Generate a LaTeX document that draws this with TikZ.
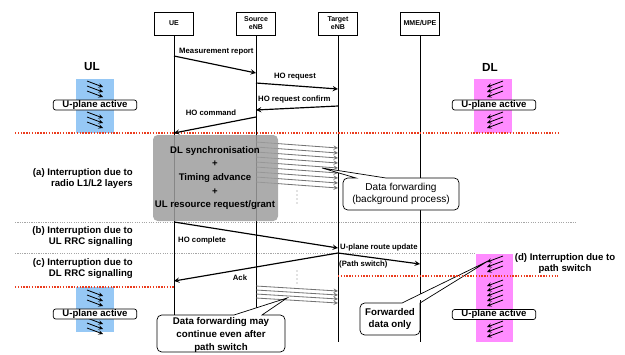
\documentclass[tikz,border=0pt]{standalone}
\usepackage{fontspec}
\setmainfont{Liberation Sans}
\usepackage{xcolor}
\usetikzlibrary{positioning, calc, arrows.meta}
\definecolor{ulblue}{RGB}{150,200,245}
\definecolor{dlpink}{RGB}{255,140,255}
\definecolor{cutred}{RGB}{235,60,30}
\tikzset{
  entity/.style={draw,fill=white,line width=0.6pt,minimum width=1.17cm,minimum height=0.69cm,inner sep=0pt,align=center,font=\fontsize{6}{6.8}\selectfont\bfseries},
  lifeline/.style={line width=0.6pt},
  msg/.style={->,>=stealth,line width=1pt},
  msglabel/.style={font=\fontsize{6.6}{7}\selectfont\bfseries,inner sep=0pt},
  fwd/.style={->,>=stealth,black!55,line width=0.7pt},
  uarrow/.style={->,>=stealth,line width=0.7pt},
  cut/.style={cutred,line width=1.3pt,dash pattern=on 1.2pt off 1.2pt},
  phase/.style={gray!70,line width=0.4pt,dash pattern=on 1pt off 1pt},
  active/.style={draw,fill=white,rounded corners=2pt,line width=0.6pt,minimum width=2.5cm,minimum height=0.3cm,inner sep=0pt,font=\fontsize{8.2}{9}\selectfont\bfseries},
  cause/.style={font=\fontsize{8.2}{9.4}\selectfont\bfseries,inner sep=0pt},
  bubble/.style={draw,fill=white,line width=0.6pt},
  note/.style={align=center,inner sep=0pt,font=\fontsize{8.3}{11}\selectfont\bfseries},
}
\begin{document}
\begin{tikzpicture}[x=0.03cm,y=-0.03cm]
  \useasboundingbox (0,0) rectangle (625,354);
  \fill[ulblue] (76,79) rectangle (114,133); %UL上
  \fill[ulblue] (76,287) rectangle (114,332); %UL下
  \fill[dlpink] (474,79) rectangle (512,133); %DL上
  \fill[dlpink] (476,254) rectangle (513,342); %DL下
  \draw[phase] (15,222) -- (577,222);
  \draw[phase] (15,253) -- (476,253);
  \node[entity] (ue) at (174,23.5) {UE};
  \node[entity] (src) at (256,23.5) {Source\\eNB};
  \node[entity] (tgt) at (338,23.5) {Target\\eNB};
  \node[entity] (mme) at (420,23.5) {MME/UPE};
  \draw[lifeline] (ue) -- (ue |- 0,342);
  \draw[lifeline] (src) -- (src |- 0,342);
  \draw[lifeline] (tgt) -- (tgt |- 0,342);
  \draw[lifeline] (mme) -- (mme |- 0,342);
  % 転送データ
  \foreach \k in {0,...,8}
    \draw[fwd] (src |- 0,{142+5*\k}) -- (tgt |- 0,{148+5*\k});
  \foreach \k in {0,...,3}
    \draw[fwd] (src |- 0,{286+4*\k}) -- (tgt |- 0,{291+4*\k});
  \foreach \y in {191,195,199,203} \fill[gray] (297,\y) circle (0.5pt);
  \foreach \y in {271,275,279,283} \fill[gray] (297,\y) circle (0.5pt);
  \fill[black!38,fill opacity=0.85,rounded corners=4pt] (153,135) rectangle (278,221);
  \node[align=center,inner sep=0pt,font=\fontsize{8.2}{11.7}\selectfont\bfseries] (sync) at (215,178)
    {DL synchronisation\\+\\Timing advance\\+\\UL resource request/grant};
  % 吹き出し
  \draw[bubble] (343,194) [rounded corners=4pt] -- (343,178) [sharp corners] -- (356,178) -- (322,168) -- (386,178)
    [rounded corners=4pt] -- (459,178) -- (459,210) -- (343,210) -- cycle;
  \node[note,font=\fontsize{8.6}{9.6}\selectfont] (fwdnote) at (401,194) {Data forwarding\\(background process)};
  \draw[bubble] (157,334) [rounded corners=4pt] -- (157,315) [sharp corners] -- (234,315) -- (287,298) -- (262,315)
    [rounded corners=4pt] -- (285,315) -- (285,352) -- (157,352) -- cycle;
  \node[note] (contnote) at (221,335) {Data forwarding may\\continue even after\\path switch};
  \draw[bubble] (360,319) [rounded corners=4pt] -- (360,303) [sharp corners] -- (402,303) -- (488,261) -- (420,303)
    [rounded corners=4pt] -- (420,335) -- (360,335) -- cycle;
  \node[note,font=\fontsize{8.3}{10.5}\selectfont\bfseries] (onlynote) at (390,319) {Forwarded\\data only};
  \draw[lifeline] (mme |- 0,300) -- (mme |- 0,342);
  % 中断区間
  \draw[cut] (15,133) -- (558,133);
  \draw[cut] (15,287) -- (ue |- 0,287);
  \draw[cut] (tgt |- 0,276) -- (558,276);
  % メッセージ
  \draw[msg] (ue |- 0,56) -- (src |- 0,73);
  \node[msglabel,anchor=west] (mr) at (179,51.5) {Measurement report};
  \draw[msg] (src |- 0,83) -- (tgt |- 0,89);
  \node[msglabel] (horeq) at (295,77) {HO request};
  \draw[msg] (tgt |- 0,106) -- (src |- 0,110);
  \node[msglabel,anchor=west] (hoconf) at (258,99) {HO request confirm};
  \draw[msg] (src |- 0,117) -- (ue |- 0,133);
  \node[msglabel] (hocmd) at (211,113) {HO command};
  \draw[msg] (ue |- 0,222) -- (tgt |- 0,248);
  \node[msglabel,anchor=west] (hocpl) at (178,240) {HO complete};
  \draw[msg] (tgt |- 0,253) -- (mme |- 0,264);
  \node[msglabel,anchor=west] (route) at (340,247) {U-plane route update};
  \node[msglabel,anchor=west] (pswitch) at (339,264) {(Path switch)};
  \draw[msg] (tgt |- 0,253) -- (ue |- 0,281);
  \node[msglabel] (ack) at (240,278) {Ack};
  % Uプレーン矢印
  \foreach \y in {81,86,91,112,117,122,290,295,300,318,323,328}
    \draw[uarrow] (87,\y) -- (103,\y+6);
  \foreach \y in {81,86,91,112,117,122,256,261,266,280,285,290,295,300,321,326,331}
    \draw[uarrow] (503,\y) -- (487,\y+6);
  \node[active] (ulact) at (95,105) {U-plane active};
  \node[active] (ulact2) at (95,314) {U-plane active};
  \node[active] (dlact) at (494,105) {U-plane active};
  \node[active] (dlact2) at (494,314.5) {U-plane active};
  \node[font=\fontsize{10}{12}\selectfont\bfseries] (ul) at (92,67) {UL};
  \node[font=\fontsize{10}{12}\selectfont\bfseries] (dl) at (490,67) {DL};
  % 中断の要因
  \node[cause,align=right,anchor=east] (causea) at (133,178.5) {(a) Interruption due to\\radio L1/L2 layers};
  \node[cause,align=right,anchor=east] (causeb) at (133,237) {(b) Interruption due to\\UL RRC signalling};
  \node[cause,align=right,anchor=east] (causec) at (133,269) {(c) Interruption due to\\DL RRC signalling};
  \node[cause,align=center] (caused) at (565,263.5) {(d) Interruption due to\\path switch};
\end{tikzpicture}
\end{document}
